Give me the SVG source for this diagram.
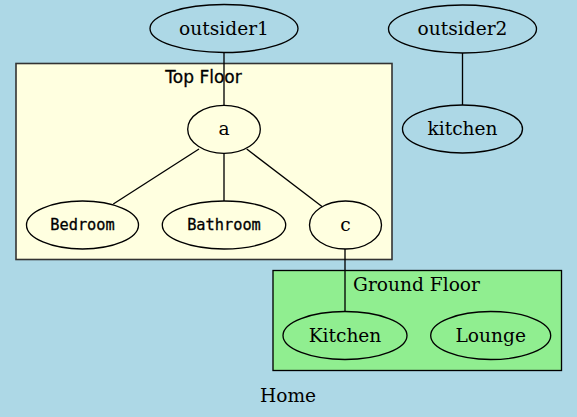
<svg xmlns="http://www.w3.org/2000/svg" width="577" height="417" viewBox="0 0 577 417">
<style>
.n{stroke:#000;stroke-width:1.33}
.blue{fill:#add8e6}
.yel{fill:#ffffe0}
.grn{fill:#90ee90}
.serif{font-family:"DejaVu Serif","Liberation Serif",serif;font-size:18.6px;text-anchor:middle;fill:#000}
.mono{font-family:"DejaVu Sans Mono","Liberation Mono",monospace;font-size:15.3px;text-anchor:middle;fill:#000;stroke:#000;stroke-width:0.3}
.sans{font-family:"DejaVu Sans","Liberation Sans",sans-serif;font-size:17px;text-anchor:middle;fill:#000;stroke:#000;stroke-width:0.3}
.e{stroke:#000;stroke-width:1.33;fill:none}
</style>
<rect x="0" y="0" width="577" height="417" fill="#add8e6"/>
<g id="cluster_top">
<rect x="16" y="63.5" width="376" height="196" fill="#ffffe0" stroke="#333" stroke-width="1.6"/>
<text class="sans" x="203.5" y="83.3">Top Floor</text>
</g>
<g id="cluster_ground">
<rect x="273" y="270.5" width="288.5" height="100" fill="#90ee90" stroke="#000" stroke-width="1.33"/>
<text class="serif" x="416.5" y="291">Ground Floor</text>
</g>
<g id="edges">
<line class="e" x1="224" y1="52.5" x2="224" y2="105"/>
<line class="e" x1="199" y1="149" x2="113.3" y2="204"/>
<line class="e" x1="224" y1="153.5" x2="224" y2="201"/>
<line class="e" x1="246.7" y1="149" x2="322.3" y2="206.7"/>
<line class="e" x1="462.5" y1="53" x2="462.5" y2="105"/>
<line class="e" x1="345" y1="249" x2="345" y2="311.5"/>
</g>
<g id="outsider1">
<ellipse class="n blue" cx="224" cy="28.5" rx="74" ry="24"/>
<text class="serif" x="224" y="34.5">outsider1</text>
</g>
<g id="outsider2">
<ellipse class="n blue" cx="462.5" cy="29" rx="74" ry="24"/>
<text class="serif" x="462.5" y="35">outsider2</text>
</g>
<g id="kitchen">
<ellipse class="n blue" cx="462.5" cy="129" rx="60" ry="24"/>
<text class="serif" x="462.5" y="135">kitchen</text>
</g>
<g id="a">
<ellipse class="n yel" cx="224" cy="129.3" rx="36.3" ry="24"/>
<text class="serif" x="224" y="135">a</text>
</g>
<g id="Bedroom">
<ellipse class="n yel" cx="82.5" cy="225" rx="56" ry="24"/>
<text class="mono" x="82.5" y="229.5">Bedroom</text>
</g>
<g id="Bathroom">
<ellipse class="n yel" cx="224" cy="225" rx="61.7" ry="24"/>
<text class="mono" x="224" y="229.5">Bathroom</text>
</g>
<g id="c">
<ellipse class="n yel" cx="345.5" cy="225" rx="36" ry="24"/>
<text class="serif" x="345.5" y="231">c</text>
</g>
<g id="Kitchen">
<ellipse class="n grn" cx="345" cy="335.5" rx="62" ry="24"/>
<text class="serif" x="345" y="341.5">Kitchen</text>
</g>
<g id="Lounge">
<ellipse class="n grn" cx="490.7" cy="335.5" rx="60" ry="24"/>
<text class="serif" x="490.7" y="341.5">Lounge</text>
</g>
<text class="serif" x="288" y="401.5">Home</text>
</svg>
